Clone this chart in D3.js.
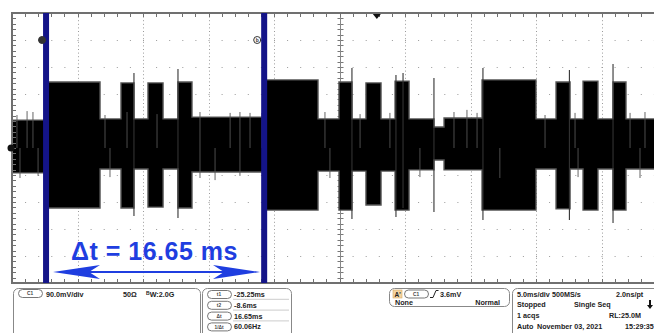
<!DOCTYPE html>
<html>
<head>
<meta charset="utf-8">
<script src="https://cdn.jsdelivr.net/npm/d3@7"></script>
<style>
  body { margin: 0; background: #fff; }
  svg { display: block; font-family: "Liberation Sans", Arial, sans-serif; }
</style>
</head>
<body>
<svg id="scope" width="654" height="333"></svg>
<script>
// time in ms, amplitude in mV (5.0 ms/div, 90.0 mV/div)
const burstStart  = [-25.25, -19.53, -17.47, -15.18, -8.6, -2.89, -0.83, 1.39, 8.03, 13.68, 15.74, 18.03];
const burstEnd    = [-21.13, -18.54, -16.32, -14.11, -4.49, -1.90, 0.32, 2.46, 12.15, 14.75, 16.88, 19.02];
const burstTop    = [220, 217, 217, 220, 227, 220, 217, 223, 227, 220, 223, 220];
const burstBottom = [-200, -200, -197, -200, -207, -207, -190, -207, -207, -203, -207, -207];

const quietStart  = [-27.85, -21.13, -18.54, -16.32, -14.11, -4.49, -1.90, 0.32, 2.46, 4.36, 5.13, 12.15, 14.75, 16.88, 19.02];
const quietEnd    = [-25.25, -19.53, -17.47, -15.18, -8.6, -2.89, -0.83, 1.39, 4.36, 5.13, 8.03, 13.68, 15.74, 18.03, 22.15];
const quietTop    = [93, 97, 97, 97, 103, 97, 97, 97, 97, 70, 100, 97, 97, 97, 97];
const quietBottom = [-83, -70, -70, -70, -80, -77, -77, -77, -73, -40, -73, -70, -70, -70, -70];

// big spikes seen at burst edges
const spikeTime   = [-18.54, -15.18, -1.90, 1.46, 2.0, 4.36, 8.1, 14.7, 18.03];
const spikeTop    = [250, 263, 267, 243, 250, 233, 267, 260, 280];
const spikeBottom = [-227, -233, -237, -230, -200, -213, -240, -240, -250];

// small spikes on the quiet envelope
const topSpikeTime  = [-27.47, -26.7, -26.25, -20.75, -19.07, -16.78, -13.5, -11.2, -10.45, -9.68, -8.77, -3.96, -1.28, 1.0, 5.89, 6.88, 7.65, 12.84, 15.13, 19.33, 20.47];
const topSpikeLevel = [110, 123, 120, 110, 120, 113, 120, 117, 120, 117, 117, 120, 113, 117, 120, 127, 117, 110, 117, 117, 120];
const botSpikeTime  = [-27.24, -25.86, -20.37, -13.5, -12.35, -10.45, -3.58, 3.29, 9.39, 15.36, 20.09];
const botSpikeLevel = [-100, -93, -97, -100, -107, -93, -100, -97, -100, -97, -100];

const cursorTimes = [-25.25, -8.6];
const cursorNames = ["a", "b"];
const triggerTime = 0;

const chanText = ["90.0mV/div", "50\u03A9"];
const cursorLabels = ["t1", "t2", "\u0394t", "1/\u0394t"];
const cursorValues = ["-25.25ms", "-8.6ms", "16.65ms", "60.06Hz"];
const statusRows = [
  [["5.0ms/div", 517], ["500MS/s", 552], ["2.0ns/pt", 616]],
  [["Stopped", 517], ["Single Seq", 574]],
  [["1 acqs", 517], ["RL:25.0M", 609]],
  [["Auto", 517], ["November 03, 2021", 537], ["15:29:35", 625]]
];

const svg = d3.select("#scope");
const pL = 12, pT = 13, pR = 667, pB = 283;

const x = d3.scaleLinear().domain([-27.85, 22.15]).range([pL, pR]);
const y = d3.scaleLinear().domain([-450, 450]).range([pB, pT]);

const plot = svg.append("g");
plot.append("clipPath").attr("id", "clip")
  .append("rect").attr("x", pL).attr("y", pT).attr("width", pR - pL).attr("height", pB - pT);

// graticule
const grid = plot.append("g").attr("stroke", "#9a9a9a").attr("stroke-width", 1);
for (let i = 1; i < 10; i++) {
  const gx = Math.round(x(-27.85 + 5 * i)) + 0.5;
  grid.append("line").attr("x1", gx).attr("x2", gx).attr("y1", pT).attr("y2", pB)
    .attr("stroke-dasharray", "1,2.6");
  const gy = Math.round(y(-450 + 90 * i)) + 0.5;
  grid.append("line").attr("x1", pL).attr("x2", pR).attr("y1", gy).attr("y2", gy)
    .attr("stroke-dasharray", "1,12.1");
}
// centre cross ticks
const cx0 = Math.round(x(-2.85)) + 0.5;
d3.range(-450, 451, 18).forEach(v => {
  grid.append("line").attr("x1", cx0 - 3).attr("x2", cx0 + 3)
    .attr("y1", Math.round(y(v)) + 0.5).attr("y2", Math.round(y(v)) + 0.5).attr("stroke", "#777");
});
grid.append("line").attr("x1", cx0).attr("x2", cx0).attr("y1", pT).attr("y2", pB).attr("stroke", "#888");

// waveform envelope
const segs = [];
burstStart.forEach((s, i) => segs.push({s: s, e: burstEnd[i], hi: burstTop[i], lo: burstBottom[i]}));
quietStart.forEach((s, i) => segs.push({s: s, e: quietEnd[i], hi: quietTop[i], lo: quietBottom[i]}));
segs.sort((a, b) => a.s - b.s);
const pts = [];
segs.forEach(d => { pts.push({t: d.s, hi: d.hi, lo: d.lo}); pts.push({t: d.e, hi: d.hi, lo: d.lo}); });

const area = d3.area().x(d => x(d.t)).y0(d => y(d.lo)).y1(d => y(d.hi));
const wave = plot.append("g").attr("clip-path", "url(#clip)");
wave.append("path").datum(pts).attr("d", area).attr("fill", "#000")
  .attr("stroke", "#555").attr("stroke-width", 1.4);

wave.selectAll(".spk").data(spikeTime).join("line")
  .attr("x1", d => x(d)).attr("x2", d => x(d))
  .attr("y1", (d, i) => y(spikeTop[i])).attr("y2", (d, i) => y(spikeBottom[i]))
  .attr("stroke", "#333").attr("stroke-width", 1.1);
wave.selectAll(".tsp").data(topSpikeTime).join("line")
  .attr("x1", d => x(d)).attr("x2", d => x(d))
  .attr("y1", y(0)).attr("y2", (d, i) => y(topSpikeLevel[i]))
  .attr("stroke", "#555").attr("stroke-width", 0.9);
wave.selectAll(".bsp").data(botSpikeTime).join("line")
  .attr("x1", d => x(d)).attr("x2", d => x(d))
  .attr("y1", y(0)).attr("y2", (d, i) => y(botSpikeLevel[i]))
  .attr("stroke", "#555").attr("stroke-width", 0.9);

// frame with ticks
const frame = plot.append("g").attr("stroke", "#707070");
d3.range(-27.85, 22.2, 1).forEach(t => {
  const tx = Math.round(x(t)) + 0.5;
  frame.append("line").attr("x1", tx).attr("x2", tx).attr("y1", pT).attr("y2", pT + 4);
  frame.append("line").attr("x1", tx).attr("x2", tx).attr("y1", pB - 4).attr("y2", pB);
});
d3.range(-450, 451, 18).forEach(v => {
  const ty = Math.round(y(v)) + 0.5;
  frame.append("line").attr("x1", pL).attr("x2", pL + 4).attr("y1", ty).attr("y2", ty);
});
frame.append("rect").attr("x", pL).attr("y", pT).attr("width", pR - pL).attr("height", pB - pT)
  .attr("fill", "none").attr("stroke-width", 2);

// trigger position marker
const tx0 = x(triggerTime);
plot.append("path").attr("d", `M${tx0 - 4},${pT + 1}L${tx0 + 4},${pT + 1}L${tx0},${pT + 6}Z`).attr("fill", "#111");
// channel 1 ground marker
plot.append("circle").attr("cx", pL - 1).attr("cy", y(0)).attr("r", 3.5).attr("fill", "#111");

// cursors
cursorTimes.forEach((t, i) => {
  plot.append("rect").attr("x", x(t) - 3).attr("y", pT).attr("width", 6).attr("height", pB - pT)
    .attr("fill", "#141488");
  const mx = x(t) - (i === 0 ? 4 : 7);
  plot.append("circle").attr("cx", mx).attr("cy", 40).attr("r", 3.5)
    .attr("fill", i === 0 ? "#333" : "#fff").attr("stroke", "#333");
  plot.append("text").attr("x", mx).attr("y", 42).attr("text-anchor", "middle")
    .attr("font-size", 5).attr("font-weight", "bold").attr("fill", "#333").text(cursorNames[i]);
});

// delta-t annotation
const blue = "#1f3ee0";
svg.append("text").attr("x", 71).attr("y", 260).attr("font-size", 25).attr("font-weight", "bold")
  .attr("letter-spacing", 0.5).attr("fill", blue).text("\u0394t = 16.65 ms");
const ax1 = 53, ax2 = 260, ay = 272;
svg.append("line").attr("x1", ax1 + 20).attr("x2", ax2 - 20).attr("y1", ay).attr("y2", ay)
  .attr("stroke", blue).attr("stroke-width", 2);
svg.append("path").attr("d", `M${ax1},${ay}L${ax1 + 47},${ay - 7}L${ax1 + 36},${ay}L${ax1 + 47},${ay + 7}Z`).attr("fill", blue);
svg.append("path").attr("d", `M${ax2},${ay}L${ax2 - 47},${ay - 7}L${ax2 - 36},${ay}L${ax2 - 47},${ay + 7}Z`).attr("fill", blue);

// readout panel
const panel = svg.append("g").attr("font-size", 7.2).attr("font-weight", "bold").attr("fill", "#222");
function box(x0, y0, w, h) {
  panel.append("rect").attr("x", x0 + 0.5).attr("y", y0 + 0.5).attr("width", w).attr("height", h).attr("rx", 5)
    .attr("fill", "none").attr("stroke", "#888");
}
function pill(x0, y0, w, label) {
  panel.append("rect").attr("x", x0 + 0.5).attr("y", y0 + 0.5).attr("width", w).attr("height", 8).attr("rx", 4)
    .attr("fill", "#fff").attr("stroke", "#777");
  panel.append("text").attr("x", x0 + w / 2).attr("y", y0 + 6.3).attr("text-anchor", "middle")
    .attr("font-size", 4.8).attr("fill", "#444").text(label);
}

box(13, 288, 187, 60);
pill(18, 289, 24, "C1");
panel.append("text").attr("x", 46).attr("y", 296.5).text(chanText[0]);
panel.append("text").attr("x", 123).attr("y", 296.5).text(chanText[1]);
const bw = panel.append("text").attr("x", 146).attr("y", 296.5);
bw.append("tspan").attr("font-size", 5).attr("dy", -2).text("B");
bw.append("tspan").attr("dy", 2).text("W");
bw.append("tspan").text(":2.0G");

box(202, 288, 89, 60);
cursorLabels.forEach((lab, i) => {
  const ry = 290 + i * 10.8;
  if (i > 0) panel.append("line").attr("x1", 233).attr("x2", 289).attr("y1", ry - 1.5).attr("y2", ry - 1.5)
    .attr("stroke", "#ccc");
  pill(207, ry, 24, lab);
  panel.append("text").attr("x", 234).attr("y", ry + 7).text(cursorValues[i]);
});

box(389, 288, 120, 18);
panel.append("rect").attr("x", 393).attr("y", 290).attr("width", 9).attr("height", 8).attr("fill", "#f3d3a0")
  .attr("stroke", "#d8a860").attr("stroke-width", 0.6);
panel.append("text").attr("x", 394.5).attr("y", 296.5).attr("font-size", 6.5).text("A'");
pill(404, 289.5, 24, "C1");
panel.append("path").attr("d", "M430,297.5L433,297.5L436,290.5L438.5,290.5")
  .attr("fill", "none").attr("stroke", "#222").attr("stroke-width", 1);
panel.append("text").attr("x", 440).attr("y", 296.5).text("3.6mV");
panel.append("text").attr("x", 395).attr("y", 304.5).text("None");
panel.append("text").attr("x", 500).attr("y", 304.5).attr("text-anchor", "end").text("Normal");

box(512, 288, 160, 60);
statusRows.forEach((row, i) => {
  row.forEach(c => panel.append("text").attr("x", c[1]).attr("y", 296.5 + i * 10.8).text(c[0]));
});
panel.append("path").attr("d", "M649,300L651,300L651,305L653,305L650,309L647,305L649,305Z").attr("fill", "#111");
</script>
</body>
</html>
